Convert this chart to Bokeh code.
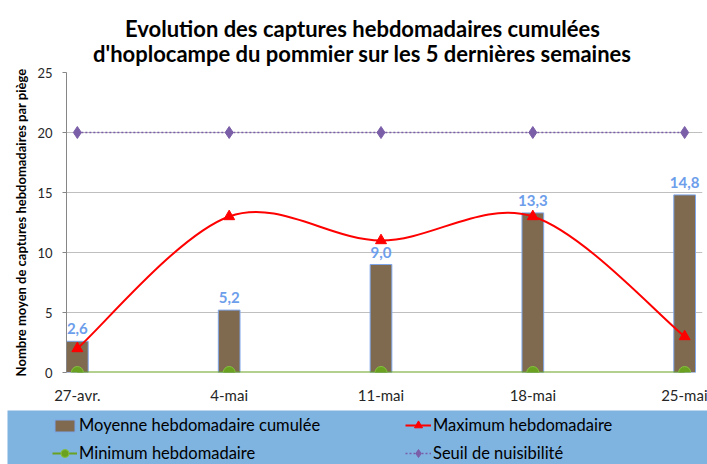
import pandas as pd
from bokeh.plotting import figure
from bokeh.models import ColumnDataSource, Range1d, Legend, LegendItem, Label, LabelSet, FixedTicker
from bokeh.layouts import column
from bokeh.embed import file_html
from bokeh.resources import INLINE
from bokeh.core.properties import value

# ---- data ----
dates = ["2024-04-27", "2024-05-04", "2024-05-11", "2024-05-18", "2024-05-25"]
date_labels = ["27-avr.", "4-mai", "11-mai", "18-mai", "25-mai"]
moyenne = [2.6, 5.2, 9.0, 13.3, 14.8]
maximum = [2, 13, 11, 13, 3]
minimum = [0, 0, 0, 0, 0]
seuil = [20, 20, 20, 20, 20]
y_ticks = [0, 5, 10, 15, 20, 25]
title_lines = ["Evolution des captures hebdomadaires cumulées",
               "d'hoplocampe du pommier sur les 5 dernières semaines"]
y_title = "Nombre moyen de captures hebdomadaires par piège"
names = ["Moyenne hebdomadaire cumulée", "Maximum hebdomadaire",
         "Minimum hebdomadaire", "Seuil de nuisibilité"]

FONT = "Lato"
d = pd.to_datetime(dates)
days = [int((x - d[0]).days) for x in d]

src = ColumnDataSource(dict(
    x=days, moy=moyenne, mx=maximum, mn=minimum, se=seuil,
    lab=[f"{v:.1f}".replace(".", ",") for v in moyenne],
))

# smoothed (Excel-like) curve for maximum: cubic Bezier segments
n = len(days)
P = list(zip(days, maximum))
bz = dict(x0=[], y0=[], x1=[], y1=[], cx0=[], cy0=[], cx1=[], cy1=[])
for i in range(n - 1):
    p0 = P[max(i - 1, 0)]
    p1 = P[i]
    p2 = P[i + 1]
    p3 = P[min(i + 2, n - 1)]
    bz["x0"].append(p1[0]); bz["y0"].append(p1[1])
    bz["x1"].append(p2[0]); bz["y1"].append(p2[1])
    bz["cx0"].append(p1[0] + (p2[0] - p0[0]) / 6); bz["cy0"].append(p1[1] + (p2[1] - p0[1]) / 6)
    bz["cx1"].append(p2[0] - (p3[0] - p1[0]) / 6); bz["cy1"].append(p2[1] - (p3[1] - p1[1]) / 6)
bsrc = ColumnDataSource(bz)

W = 700
H_TITLE = 66
H_MAIN = 344
H_LEG = 54
BL, BR = 59, 5
EXTRA_PX = 7                      # frame extends a little right so the last label is not clipped
SPAN = days[-1] - days[0] + 1
PX_PER_DAY = (W - BL - BR - EXTRA_PX) / SPAN

BAR_FILL = "#7f6a4f"
BAR_LINE = "#7ea6ea"
RED = "#ff0000"
GREEN = "#6aa121"
PURPLE = "#7b5ea8"
BAND = "#7fb3e0"


def strip(h, bg, xr, yr):
    f = figure(width=W, height=h, output_backend="svg", toolbar_location=None,
               x_range=xr, y_range=yr, x_axis_location=None, y_axis_location=None,
               min_border=0, min_border_left=0, min_border_right=0, min_border_top=0, min_border_bottom=0)
    f.frame_align = False
    f.grid.visible = False
    f.outline_line_color = None
    f.background_fill_color = bg
    f.border_fill_color = bg
    return f


# ---- title strip ----
tf = strip(H_TITLE, "white", Range1d(0, W), Range1d(0, H_TITLE))
for i, t in enumerate(title_lines):
    tf.add_layout(Label(x=355, y=H_TITLE - 27.5 - 25 * i, text=t,
                        text_align="center", text_baseline="middle", text_font=FONT,
                        text_font_style="bold", text_font_size="22px", text_color="#000000"))

# ---- main chart ----
p = figure(width=W, height=H_MAIN, output_backend="svg", toolbar_location=None,
           x_range=Range1d(days[0] - 0.5, days[-1] + 0.5 + EXTRA_PX / PX_PER_DAY),
           y_range=Range1d(0, 25),
           min_border_left=BL, min_border_right=BR, min_border_top=6, min_border_bottom=38)
p.frame_align = False
p.outline_line_color = None
p.background_fill_color = "white"
p.border_fill_color = "white"

p.xaxis.ticker = FixedTicker(ticks=days)
p.xaxis.major_label_overrides = {dd: lab for dd, lab in zip(days, date_labels)}
p.xaxis.major_tick_out = 0
p.xaxis.major_tick_in = 0
p.xaxis.minor_tick_out = 0
p.xaxis.minor_tick_in = 0
p.xaxis.axis_line_color = None
p.xaxis.major_label_standoff = 13
p.xaxis.major_label_text_font = FONT
p.xaxis.major_label_text_font_size = "15px"
p.xaxis.major_label_text_color = "#262626"

p.yaxis.ticker = FixedTicker(ticks=y_ticks)
p.yaxis.minor_tick_out = 0
p.yaxis.minor_tick_in = 0
p.yaxis.major_tick_in = 0
p.yaxis.major_tick_out = 4
p.yaxis.major_tick_line_color = "#868686"
p.yaxis.axis_line_color = "#868686"
p.yaxis.major_label_standoff = 10
p.yaxis.major_label_text_font = FONT
p.yaxis.major_label_text_font_size = "13px"
p.yaxis.major_label_text_color = "#262626"
p.yaxis.axis_label = y_title
p.yaxis.axis_label_text_font = FONT
p.yaxis.axis_label_text_font_style = "bold"
p.yaxis.axis_label_text_font_size = "13px"
p.yaxis.axis_label_text_color = "#000000"
p.yaxis.axis_label_standoff = 5

p.xgrid.grid_line_color = None
p.ygrid.grid_line_color = "#bfbfbf"
p.ygrid.grid_line_width = 1

p.vbar(x="x", top="moy", width=1.0, source=src, fill_color=BAR_FILL, line_color=BAR_LINE, line_width=1)
p.line(x="x", y="se", source=src, line_color=PURPLE, line_dash="2 2", line_width=1.5)
p.scatter(x="x", y="se", source=src, marker="diamond", size=12, fill_color=PURPLE, line_color=PURPLE)
p.line(x="x", y="mn", source=src, line_color=GREEN, line_width=2)
p.scatter(x="x", y="mn", source=src, marker="circle", size=12, fill_color=GREEN, line_color="#86c040")
p.bezier(x0="x0", y0="y0", x1="x1", y1="y1", cx0="cx0", cy0="cy0", cx1="cx1", cy1="cy1",
         source=bsrc, line_color=RED, line_width=2)
p.scatter(x="x", y="mx", source=src, marker="triangle", size=11, fill_color=RED, line_color=RED)

p.add_layout(LabelSet(x="x", y="moy", text="lab", source=src, text_align="center",
                      text_baseline="alphabetic", y_offset=7, text_font=value(FONT),
                      text_font_style="bold", text_font_size="15px", text_color="#6d9eeb"))

# ---- legend strip ----
lg = strip(H_LEG, BAND, Range1d(1000, 1001), Range1d(1000, 1001))

r_bar = lg.vbar(x="x", top="moy", width=1.0, source=src, fill_color=BAR_FILL, line_color=BAR_LINE, line_width=1)
r_mx_l = lg.line(x="x", y="mx", source=src, line_color=RED, line_width=2)
r_mx_s = lg.scatter(x="x", y="mx", source=src, marker="triangle", size=11, fill_color=RED, line_color=RED)
r_mn_l = lg.line(x="x", y="mn", source=src, line_color=GREEN, line_width=2)
r_mn_s = lg.scatter(x="x", y="mn", source=src, marker="circle", size=10, fill_color=GREEN, line_color="#86c040")
r_se_l = lg.line(x="x", y="se", source=src, line_color=PURPLE, line_dash="2 2", line_width=1.5)
r_se_s = lg.scatter(x="x", y="se", source=src, marker="diamond", size=12, fill_color=PURPLE, line_color=PURPLE)

ROW_H = 20
ROW_CENTERS = [39, 11]        # distance of each legend row's centre from the strip's bottom


def make_legend(item, x, row, gw, gh):
    leg = Legend(items=[item], location=(x, ROW_CENTERS[row] - ROW_H / 2), orientation="vertical")
    leg.background_fill_alpha = 0
    leg.border_line_color = None
    leg.padding = 0
    leg.margin = 0
    leg.glyph_width = gw
    leg.glyph_height = gh
    leg.label_height = ROW_H
    leg.label_standoff = 2
    leg.spacing = 0
    leg.label_text_font = FONT
    leg.label_text_font_size = "16.5px"
    leg.label_text_color = "#000000"
    return leg


lg.add_layout(make_legend(LegendItem(label=names[0], renderers=[r_bar]), 45, 0, 25, 15), "center")
lg.add_layout(make_legend(LegendItem(label=names[2], renderers=[r_mn_l, r_mn_s]), 45, 1, 25, 20), "center")
lg.add_layout(make_legend(LegendItem(label=names[1], renderers=[r_mx_l, r_mx_s]), 398, 0, 26, 20), "center")
lg.add_layout(make_legend(LegendItem(label=names[3], renderers=[r_se_l, r_se_s]), 398, 1, 26, 20), "center")

layout = column(tf, p, lg, spacing=0, margin=(0, 0, 0, 7))
open("out.html", "w").write(file_html(layout, INLINE))
